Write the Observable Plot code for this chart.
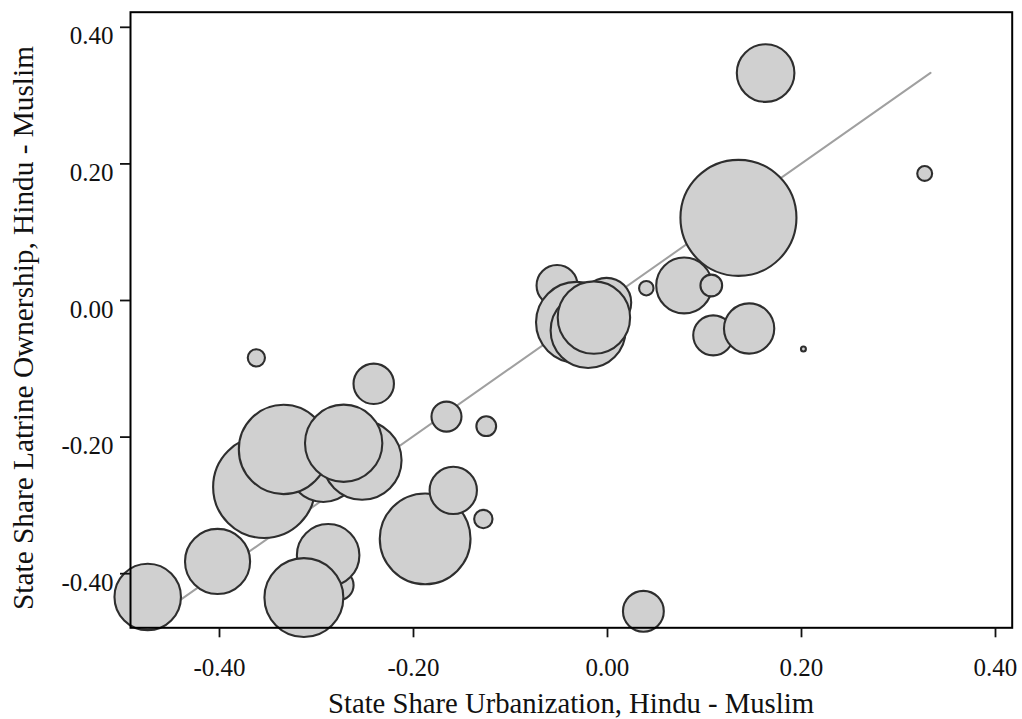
<!DOCTYPE html>
<html>
<head>
<meta charset="utf-8">
<script src="https://cdn.jsdelivr.net/npm/d3@7"></script>
<script src="https://cdn.jsdelivr.net/npm/@observablehq/plot@0.6"></script>
<style>
html, body { margin: 0; padding: 0; background: #fff; }
#chart svg { display: block; }
</style>
</head>
<body>
<div id="chart"></div>
<script>
// State share urbanization difference (Hindu - Muslim)
const urban = [0.163, 0.327, 0.079, 0.135, 0.107, 0.040, 0.109, 0.146, 0.202, -0.052,
  -0.001, -0.032, -0.020, -0.014, -0.362, -0.241, -0.166, -0.125, -0.188, -0.159,
  -0.128, -0.354, -0.293, -0.253, -0.334, -0.272, -0.402, -0.277, -0.288, -0.313,
  -0.474, 0.037];
// State share latrine ownership difference (Hindu - Muslim)
const latrine = [0.333, 0.186, 0.022, 0.121, 0.022, 0.018, -0.051, -0.041, -0.071, 0.022,
  -0.003, -0.032, -0.044, -0.025, -0.084, -0.122, -0.170, -0.184, -0.349, -0.278,
  -0.320, -0.273, -0.243, -0.234, -0.218, -0.209, -0.382, -0.417, -0.373, -0.435,
  -0.434, -0.455];
// Bubble weights (relative state size)
const weight = [49.3, 3.3, 46.3, 200, 7.0, 3.1, 23.8, 37.6, 0.36, 25.0,
  36.2, 97.2, 83.5, 77.9, 4.4, 24.3, 13.4, 5.8, 122.4, 33.3,
  5.0, 154.6, 75.0, 92.6, 118.7, 88.9, 63.0, 13.0, 58.1, 92.6,
  65.7, 24.8];

// Linear fit
const fitRange = [-0.474, 0.333];
const fitIntercept = 0.001;
const fitSlope = 0.998;

const xTicks = [-0.4, -0.2, 0, 0.2, 0.4];
const yTicks = [-0.4, -0.2, 0, 0.2, 0.4];
const xLabel = "State Share Urbanization, Hindu - Muslim";
const yLabel = "State Share Latrine Ownership, Hindu - Muslim";

const states = urban.map((u, i) => ({x: u, y: latrine[i], w: weight[i]}));
const fitLine = fitRange.map(x => ({x, y: fitIntercept + fitSlope * x}));

const fmt = d => d.toFixed(2);
const FONT = "'Liberation Serif', serif";

const chart = Plot.plot({
  width: 1022,
  height: 719,
  marginLeft: 130,
  marginRight: 10.3,
  marginTop: 11.7,
  marginBottom: 91.7,
  style: {fontFamily: FONT, background: "#fff", color: "#111"},
  x: {domain: [-0.49175, 0.41722]},
  y: {domain: [-0.47921, 0.42211]},
  r: {type: "sqrt", domain: [0, 200], range: [0, 58]},
  marks: [
    Plot.line(fitLine, {x: "x", y: "y", stroke: "#a0a0a0", strokeWidth: 2}),
    Plot.dot(states, {x: "x", y: "y", r: "w", fill: "#d0d0d0", stroke: "#2e2e2e", strokeWidth: 2.1, sort: null}),
    Plot.frame({stroke: "#000", strokeWidth: 2}),
    Plot.axisX({ticks: xTicks, tickSize: 10, tickPadding: 20, tickFormat: fmt, fontSize: 25, label: null, strokeWidth: 1.8}),
    Plot.axisY({ticks: yTicks, tickSize: 10, tickFormat: () => "", label: null, strokeWidth: 1.8}),
    Plot.axisY({ticks: yTicks, tickSize: 0, tickPadding: 17, tickFormat: fmt, fontSize: 25, label: null, dy: 9})
  ]
});

const svg = d3.select(chart);
svg.append("text")
  .attr("x", 571)
  .attr("y", 713)
  .attr("text-anchor", "middle")
  .attr("font-family", FONT)
  .attr("font-size", 28.7)
  .attr("fill", "#111")
  .text(xLabel);
svg.append("text")
  .attr("transform", "translate(33,328) rotate(-90)")
  .attr("text-anchor", "middle")
  .attr("font-family", FONT)
  .attr("font-size", 29.3)
  .attr("fill", "#111")
  .text(yLabel);

document.getElementById("chart").appendChild(chart);
</script>
</body>
</html>
